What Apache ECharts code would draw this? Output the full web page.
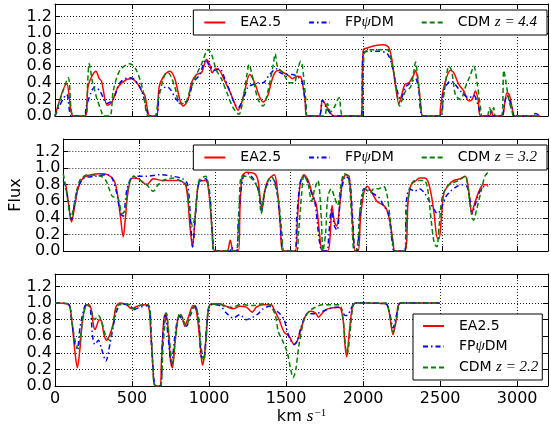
<!DOCTYPE html>
<html><head><meta charset="utf-8">
<script src="https://cdn.jsdelivr.net/npm/echarts@6/dist/echarts.min.js"></script>
<style>html,body{margin:0;padding:0;background:#fff}#c{width:551px;height:430px}</style>
</head><body><div id="c"></div>
<script>
const xTickLabels = ['0','500','1000','1500','2000','2500','3000'];
const yTickLabels = ['0.0','0.2','0.4','0.6','0.8','1.0','1.2'];
const seriesNames = ['EA2.5','FPψDM'];
const cdmNames = ['CDM z=4.4','CDM z=3.2','CDM z=2.2'];

const ea1 = [[0,0],[76,0.39],[119,0],[194,0],[216,0.37],[266,0.54],[287,0.45],[302,0.42],[339,0.13],[367,0.16],[410,0.35],[464,0.44],[497,0.45],[540,0.38],[562,0.30],[583,0.25],[616,0],[659,0],[676,0.35],[713,0.50],[745,0.54],[778,0.45],[810,0.20],[832,0.12],[864,0.20],[886,0.40],[918,0.50],[950,0.52],[966,0.60],[983,0.68],[1004,0.62],[1020,0.52],[1043,0.57],[1069,0.55],[1095,0.45],[1134,0.30],[1166,0.15],[1188,0.07],[1210,0.15],[1231,0.30],[1264,0.50],[1296,0.40],[1324,0.25],[1350,0.17],[1382,0.25],[1400,0.38],[1426,0.52],[1455,0.55],[1487,0.52],[1520,0.48],[1541,0.45],[1574,0.48],[1595,0.47],[1606,0.40],[1623,0.20],[1634,0],[1714,0],[1736,0.19],[1768,0.10],[1811,0],[1984,0],[2001,0.80],[2027,0.82],[2081,0.85],[2135,0.86],[2168,0.82],[2189,0.65],[2211,0.35],[2232,0.15],[2250,0.25],[2271,0.38],[2297,0.40],[2330,0.50],[2340,0.55],[2358,0.40],[2373,0.15],[2388,0],[2496,0],[2502,0.10],[2524,0.35],[2567,0.55],[2589,0.52],[2621,0.38],[2654,0.30],[2686,0.18],[2708,0.20],[2729,0.30],[2746,0.20],[2762,0],[2820,0],[2833,0.07],[2848,0],[2902,0],[2919,0.15],[2934,0.28],[2950,0.25],[2967,0.10],[2984,0],[3150,0]];
const fp1 = [[0,0],[76,0.26],[108,0],[194,0],[201,0.10],[238,0.30],[259,0.35],[292,0.30],[313,0.22],[335,0.15],[378,0.20],[421,0.40],[475,0.46],[508,0.45],[551,0.35],[572,0.25],[616,0],[659,0],[680,0.30],[724,0.35],[745,0.33],[788,0.20],[821,0.15],[864,0.20],[896,0.40],[940,0.50],[978,0.68],[1004,0.60],[1037,0.55],[1069,0.57],[1102,0.45],[1134,0.30],[1166,0.15],[1188,0.10],[1220,0.20],[1253,0.35],[1285,0.38],[1318,0.40],[1350,0.40],[1393,0.50],[1436,0.57],[1455,0.53],[1498,0.50],[1541,0.50],[1584,0.46],[1606,0.40],[1628,0.10],[1638,0],[1714,0],[1736,0.19],[1768,0.08],[1811,0],[1990,0],[1999,0.75],[2038,0.78],[2103,0.78],[2157,0.75],[2189,0.60],[2222,0.30],[2243,0.20],[2276,0.35],[2308,0.40],[2340,0.45],[2362,0.30],[2388,0],[2502,0],[2524,0.30],[2567,0.42],[2589,0.40],[2632,0.30],[2686,0.22],[2718,0.25],[2751,0.10],[2772,0],[2816,0],[2826,0.05],[2837,0],[2902,0],[2913,0.10],[2934,0.25],[2967,0.10],[2984,0],[3096,0],[3118,0.03],[3150,0]];
const cdm1 = [[0,0],[43,0.25],[86,0.46],[119,0],[201,0],[212,0.40],[222,0.63],[244,0.40],[259,0.30],[270,0.22],[302,0.05],[313,0],[356,0],[378,0.30],[421,0.55],[486,0.63],[529,0.55],[572,0.30],[605,0],[648,0],[670,0.20],[713,0.50],[734,0.52],[778,0.35],[810,0.15],[842,0.15],[875,0.30],[918,0.50],[950,0.62],[994,0.80],[1015,0.75],[1048,0.55],[1080,0.45],[1112,0.30],[1156,0.10],[1194,0.02],[1220,0.20],[1246,0.50],[1259,0.62],[1285,0.45],[1318,0.20],[1350,0.12],[1382,0.30],[1415,0.60],[1430,0.75],[1444,0.60],[1487,0.50],[1520,0.40],[1552,0.40],[1574,0.55],[1595,0.66],[1606,0.60],[1628,0.20],[1638,0],[1746,0],[1768,0.15],[1790,0.05],[1811,0.10],[1844,0.22],[1870,0],[1995,0],[2006,0.75],[2038,0.80],[2124,0.80],[2157,0.80],[2178,0.70],[2211,0.40],[2237,0.12],[2254,0.20],[2276,0.30],[2308,0.35],[2330,0.55],[2340,0.65],[2356,0.45],[2373,0.15],[2388,0],[2502,0],[2513,0.10],[2535,0.40],[2556,0.60],[2574,0.55],[2600,0.25],[2632,0.20],[2664,0.35],[2697,0.50],[2718,0.60],[2740,0.40],[2762,0.10],[2772,0],[2805,0],[2820,0.10],[2833,0.05],[2848,0.10],[2859,0],[2898,0],[2913,0.55],[2928,0.40],[2945,0.20],[2967,0.05],[2978,0],[3150,0]];

const ea2 = [[0,0.82],[15,0.80],[32,0.60],[54,0.35],[76,0.55],[97,0.75],[130,0.88],[184,0.92],[248,0.93],[292,0.92],[335,0.85],[356,0.70],[378,0.40],[395,0.17],[410,0.40],[426,0.70],[454,0.88],[497,0.87],[529,0.82],[551,0.80],[594,0.87],[659,0.85],[724,0.85],[767,0.85],[810,0.78],[836,0.30],[853,0.05],[870,0.40],[896,0.83],[940,0.85],[961,0.70],[983,0.25],[1000,0],[1080,0],[1102,0.13],[1123,0],[1156,0],[1166,0.50],[1181,0.90],[1210,0.95],[1264,0.93],[1285,0.85],[1302,0.60],[1313,0.52],[1328,0.70],[1350,0.85],[1393,0.92],[1412,0.75],[1433,0.30],[1450,0],[1530,0],[1546,0.40],[1563,0.80],[1589,0.92],[1617,0.85],[1649,0.65],[1671,0.55],[1692,0.20],[1710,0],[1746,0],[1762,0.20],[1774,0.55],[1790,0.35],[1805,0.30],[1822,0.50],[1844,0.85],[1865,0.92],[1887,0.90],[1908,0.40],[1926,0],[1947,0],[1962,0.40],[1984,0.70],[2006,0.78],[2038,0.70],[2070,0.60],[2114,0.55],[2135,0.50],[2157,0.35],[2178,0.10],[2189,0],[2254,0],[2276,0.60],[2297,0.80],[2330,0.85],[2351,0.88],[2384,0.88],[2405,0.85],[2427,0.70],[2448,0.45],[2470,0.15],[2481,0.15],[2496,0.40],[2513,0.70],[2546,0.80],[2578,0.85],[2621,0.87],[2654,0.90],[2675,0.75],[2697,0.45],[2712,0.55],[2740,0.70],[2772,0.80],[2805,0.80]];
const fp2 = [[0,0.85],[28,0.65],[54,0.38],[86,0.70],[130,0.87],[205,0.90],[292,0.92],[324,0.87],[352,0.70],[378,0.45],[395,0.42],[421,0.75],[464,0.90],[551,0.90],[637,0.92],[724,0.90],[788,0.87],[821,0.80],[842,0.30],[853,0.05],[875,0.50],[896,0.83],[940,0.87],[966,0.70],[988,0.10],[1000,0],[1102,0],[1112,0.05],[1123,0],[1145,0],[1156,0.40],[1188,0.90],[1220,0.93],[1285,0.75],[1307,0.47],[1333,0.75],[1372,0.85],[1390,0.85],[1422,0.55],[1444,0.05],[1455,0],[1530,0],[1541,0.40],[1567,0.85],[1595,0.90],[1628,0.75],[1660,0.60],[1692,0.10],[1710,0],[1740,0],[1753,0.20],[1770,0.50],[1790,0.30],[1807,0.25],[1833,0.70],[1865,0.90],[1891,0.85],[1913,0.30],[1926,0],[1941,0],[1956,0.40],[1984,0.75],[2006,0.75],[2038,0.70],[2081,0.65],[2114,0.55],[2146,0.45],[2172,0.10],[2185,0],[2254,0],[2265,0.60],[2287,0.75],[2319,0.72],[2351,0.75],[2384,0.70],[2416,0.60],[2448,0.50],[2470,0.45],[2492,0.50],[2524,0.65],[2556,0.72],[2600,0.78],[2632,0.80],[2664,0.78],[2686,0.60],[2699,0.45],[2718,0.55],[2751,0.72],[2783,0.78],[2805,0.78]];
const cdm2 = [[0,0.93],[22,0.70],[50,0.40],[76,0.60],[108,0.85],[162,0.92],[248,0.90],[281,0.85],[302,0.75],[330,0.65],[356,0.65],[389,0.45],[410,0.50],[432,0.80],[464,0.90],[508,0.85],[551,0.80],[572,0.75],[594,0.72],[626,0.80],[659,0.85],[724,0.88],[767,0.85],[810,0.80],[832,0.50],[853,0.30],[875,0.50],[896,0.85],[940,0.90],[966,0.65],[983,0.20],[994,0],[1138,0],[1156,0.30],[1177,0.90],[1220,0.90],[1285,0.75],[1307,0.45],[1328,0.70],[1372,0.90],[1390,0.85],[1422,0.60],[1444,0.20],[1459,0],[1541,0],[1552,0.20],[1574,0.70],[1589,0.92],[1617,0.80],[1638,0.60],[1660,0.75],[1681,0.85],[1703,0.40],[1714,0],[1731,0.20],[1746,0.65],[1768,0.75],[1790,0.65],[1811,0.55],[1833,0.80],[1854,0.93],[1882,0.90],[1904,0.40],[1919,0],[1930,0],[1947,0.15],[1962,0.55],[1995,0.75],[2027,0.70],[2049,0.75],[2081,0.75],[2114,0.78],[2135,0.70],[2157,0.40],[2178,0.05],[2189,0],[2254,0],[2265,0.40],[2287,0.75],[2319,0.85],[2351,0.85],[2384,0.85],[2405,0.75],[2427,0.40],[2448,0.10],[2466,0.05],[2481,0.30],[2502,0.65],[2535,0.78],[2567,0.82],[2610,0.85],[2654,0.90],[2669,0.80],[2686,0.55],[2708,0.37],[2729,0.50],[2762,0.75],[2783,0.90],[2805,0.95]];

const ea3 = [[0,1.00],[76,0.99],[97,0.95],[114,0.70],[130,0.40],[145,0.22],[162,0.45],[179,0.80],[201,0.97],[222,0.98],[238,0.90],[248,0.75],[259,0.68],[270,0.72],[287,0.80],[302,0.78],[318,0.62],[335,0.55],[356,0.62],[378,0.75],[395,0.95],[421,1.00],[464,0.98],[497,0.93],[529,0.96],[572,0.98],[605,0.97],[620,0.70],[637,0.20],[648,0],[680,0],[691,0.30],[706,0.80],[719,0.88],[734,0.70],[750,0.30],[762,0.22],[778,0.50],[799,0.82],[821,0.85],[842,0.72],[864,0.82],[896,0.97],[918,0.90],[940,0.55],[957,0.25],[972,0.40],[994,0.90],[1015,0.99],[1069,0.99],[1112,0.96],[1156,0.93],[1199,0.96],[1242,0.95],[1281,0.89],[1307,0.95],[1350,0.98],[1404,0.98],[1422,0.92],[1455,0.80],[1487,0.65],[1520,0.60],[1552,0.50],[1574,0.55],[1595,0.68],[1628,0.85],[1660,0.90],[1692,0.88],[1710,0.83],[1736,0.88],[1768,0.93],[1844,0.95],[1870,0.80],[1882,0.50],[1893,0.35],[1908,0.60],[1930,0.95],[1952,1.00],[2016,1.00],[2146,0.99],[2168,0.90],[2194,0.62],[2215,0.80],[2243,1.00],[2496,1.00]];
const fp3 = [[0,1.00],[86,0.99],[108,0.80],[130,0.50],[145,0.45],[162,0.70],[184,0.90],[201,0.98],[227,0.95],[244,0.60],[259,0.50],[281,0.55],[302,0.45],[318,0.35],[330,0.30],[356,0.50],[378,0.72],[400,0.90],[432,0.99],[486,0.97],[508,0.92],[551,0.95],[605,0.97],[626,0.50],[641,0.10],[654,0],[685,0],[697,0.50],[715,0.87],[734,0.60],[756,0.25],[778,0.60],[806,0.85],[832,0.78],[853,0.72],[879,0.85],[907,0.97],[933,0.80],[950,0.35],[966,0.35],[988,0.80],[1009,0.98],[1069,0.97],[1112,0.88],[1156,0.82],[1199,0.86],[1242,0.80],[1285,0.83],[1318,0.87],[1350,0.93],[1393,0.96],[1422,0.92],[1455,0.88],[1487,0.80],[1509,0.65],[1530,0.55],[1552,0.50],[1574,0.55],[1595,0.70],[1628,0.85],[1660,0.87],[1692,0.87],[1736,0.90],[1779,0.93],[1833,0.95],[1861,0.92],[1882,0.85],[1897,0.85],[1919,0.92],[1947,1.00],[2146,0.99],[2172,0.88],[2194,0.70],[2222,0.90],[2243,1.00],[2496,1.00]];
const cdm3 = [[0,1.00],[86,0.99],[108,0.80],[130,0.55],[151,0.45],[166,0.60],[184,0.85],[205,0.98],[227,0.95],[259,0.80],[281,0.85],[302,0.78],[330,0.60],[352,0.55],[378,0.75],[400,0.95],[432,0.99],[486,0.98],[508,0.93],[551,0.97],[605,0.98],[626,0.60],[641,0.05],[659,0],[685,0],[702,0.50],[724,0.88],[741,0.60],[762,0.28],[784,0.60],[810,0.88],[832,0.80],[853,0.72],[875,0.85],[907,0.97],[929,0.85],[950,0.45],[966,0.30],[983,0.60],[1004,0.97],[1069,0.99],[1112,0.95],[1156,0.95],[1199,0.98],[1285,0.97],[1350,0.99],[1393,0.98],[1430,0.85],[1450,0.65],[1476,0.55],[1508,0.40],[1530,0.20],[1545,0.10],[1563,0.20],[1584,0.50],[1617,0.80],[1649,0.90],[1692,0.95],[1736,0.98],[1844,0.98],[1870,0.80],[1887,0.45],[1897,0.38],[1913,0.60],[1934,0.97],[1952,1.00],[2146,1.00],[2172,0.85],[2194,0.65],[2222,0.85],[2243,1.00],[2496,1.00]];

const FONT = 'DejaVu Sans';
const gridTops = [4, 139, 274];
const panels = [
  {ea: ea1, fp: fp1, cdm: cdm1, cdmName: cdmNames[0]},
  {ea: ea2, fp: fp2, cdm: cdm2, cdmName: cdmNames[1]},
  {ea: ea3, fp: fp3, cdm: cdm3, cdmName: cdmNames[2]}
];

const grids = [], xAxes = [], yAxes = [], series = [];
panels.forEach((p, i) => {
  grids.push({left: 55, right: 3, top: gridTops[i], height: 112, containLabel: false});
  const last = i === 2;
  xAxes.push({
    type: 'value', gridIndex: i, min: 0, max: 3200, interval: 500, position: 'bottom',
    axisLine: {show: true, onZero: false, lineStyle: {color: '#000', width: 1}},
    axisTick: {show: true, inside: true, length: 5, lineStyle: {color: '#000'}},
    axisLabel: {show: last, fontSize: 16, fontFamily: FONT, color: '#000', margin: 5,
      formatter: v => { const k = Math.round(v / 500); return (v % 500 === 0 && k < xTickLabels.length) ? xTickLabels[k] : ''; }},
    splitLine: {show: true, lineStyle: {color: '#222', width: 1, type: [1, 2]}},
    name: last ? '{a|km }{i|s}{s|−1}' : '', nameLocation: 'middle', nameGap: 22,
    nameTextStyle: {rich: {
      a: {fontFamily: FONT, fontSize: 16, color: '#000'},
      i: {fontFamily: 'Liberation Serif', fontStyle: 'italic', fontSize: 17, color: '#000'},
      s: {fontFamily: 'Liberation Serif', fontSize: 11, color: '#000', verticalAlign: 'top', padding: [0, 0, 0, 1]}
    }}
  });
  xAxes.push({
    type: 'value', gridIndex: i, min: 0, max: 3200, interval: 500, position: 'top',
    axisLine: {show: true, onZero: false, lineStyle: {color: '#000', width: 1}},
    axisTick: {show: true, inside: true, length: 5, lineStyle: {color: '#000'}},
    axisLabel: {show: false}, splitLine: {show: false}
  });
  yAxes.push({
    type: 'value', gridIndex: i, min: 0, max: 1.35, interval: 0.2, position: 'left',
    axisLine: {show: true, onZero: false, lineStyle: {color: '#000', width: 1}},
    axisTick: {show: true, inside: true, length: 5, lineStyle: {color: '#000'}},
    axisLabel: {fontSize: 16, fontFamily: FONT, color: '#000', margin: 3,
      formatter: v => { const k = Math.round(v / 0.2); return (Math.abs(v - k * 0.2) < 1e-6 && k < yTickLabels.length) ? yTickLabels[k] : ''; }},
    splitLine: {show: true, lineStyle: {color: '#222', width: 1, type: [1, 2]}},
    name: i === 1 ? 'Flux' : '', nameLocation: 'middle', nameGap: 32,
    nameTextStyle: {fontFamily: FONT, fontSize: 16, color: '#000'}
  });
  yAxes.push({
    type: 'value', gridIndex: i, min: 0, max: 1.35, interval: 0.2, position: 'right',
    axisLine: {show: true, onZero: false, lineStyle: {color: '#000', width: 1}},
    axisTick: {show: true, inside: true, length: 5, lineStyle: {color: '#000'}},
    axisLabel: {show: false}, splitLine: {show: false}
  });
  const common = {type: 'line', xAxisIndex: 2 * i, yAxisIndex: 2 * i, symbol: 'none', smooth: 0.3, animation: false};
  series.push(Object.assign({}, common, {name: seriesNames[0], data: p.ea,
    lineStyle: {color: '#ff0000', width: 1.5, type: 'solid'}, itemStyle: {color: '#ff0000'}}));
  series.push(Object.assign({}, common, {name: seriesNames[1], data: p.fp,
    lineStyle: {color: '#0000ff', width: 1.5, type: [5, 3, 1.5, 3]}, itemStyle: {color: '#0000ff'}}));
  series.push(Object.assign({}, common, {name: p.cdmName, data: p.cdm,
    lineStyle: {color: '#008000', width: 1.5, type: [5, 3]}, itemStyle: {color: '#008000'}}));
});

function legendFmt(name) {
  if (name.indexOf('CDM') === 0) return '{t|CDM }{m|' + name.slice(4).replace('=', ' = ') + '}';
  if (name.indexOf('FP') === 0) return '{t|FP}{g|ψ}{t|DM}';
  return '{t|' + name + '}';
}
const legendText = {
  color: '#000', padding: [0, 0, 0, 10],
  rich: {
    t: {fontFamily: FONT, fontSize: 14, color: '#000'},
    g: {fontFamily: 'Liberation Serif', fontStyle: 'italic', fontSize: 15, color: '#000'},
    m: {fontFamily: 'Liberation Serif', fontStyle: 'italic', fontSize: 15, color: '#000'}
  }
};
const legendBase = {
  itemWidth: 21, itemHeight: 14, borderColor: '#000', borderWidth: 1, borderRadius: 0,
  backgroundColor: '#fff', selectedMode: false, formatter: legendFmt, textStyle: legendText,
  itemStyle: {opacity: 0}
};
const legends = [
  Object.assign({}, legendBase, {data: [seriesNames[0], seriesNames[1], cdmNames[0]], orient: 'horizontal', right: 4, top: 10, itemGap: 27, padding: [5, 10, 5, 10]}),
  Object.assign({}, legendBase, {data: [seriesNames[0], seriesNames[1], cdmNames[1]], orient: 'horizontal', right: 4, top: 145, itemGap: 27, padding: [5, 10, 5, 10]}),
  Object.assign({}, legendBase, {data: [seriesNames[0], seriesNames[1], cdmNames[2]], orient: 'vertical', left: 413, top: 314, itemGap: 6, padding: [5, 4, 5, 9]})
];

const chart = echarts.init(document.getElementById('c'), null, {renderer: 'canvas'});
chart.setOption({
  animation: false,
  backgroundColor: '#fff',
  grid: grids, xAxis: xAxes, yAxis: yAxes, legend: legends, series: series
});
</script></body></html>
